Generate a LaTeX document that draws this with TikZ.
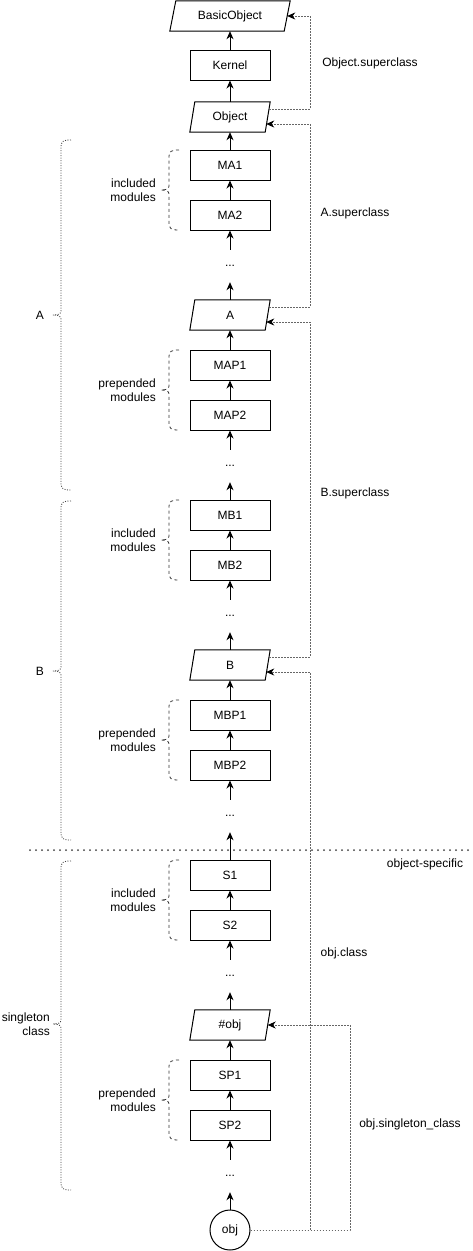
\documentclass[tikz,border=0pt]{standalone}
\usepackage{fontspec}
\setmainfont{Liberation Sans}
\usetikzlibrary{arrows.meta}
\newcommand\pgram[2]{\draw[line width=1pt] ([xshift=#2]#1.north west) -- (#1.north east) -- ([xshift=-#2]#1.south east) -- (#1.south west) -- cycle;}
\newcommand\mybrace[5]{\draw[#5] (#1+10,#2) .. controls (#1+2,#2) and (#1,#2+1) .. (#1,#2+8) -- (#1,#3-4) .. controls (#1,#3-1) and (#1-3,#3) .. (#1-8,#3) .. controls (#1-3,#3) and (#1,#3+1) .. (#1,#3+4) -- (#1,#4-8) .. controls (#1,#4-1) and (#1+2,#4) .. (#1+10,#4);}
\begin{document}
\begin{tikzpicture}[x=1pt,y=-1pt,
  every node/.style={font=\fontsize{12}{14}\selectfont},
  box/.style={draw, line width=1pt, minimum width=80pt, minimum height=30pt, inner sep=0pt},
  pg/.style={minimum width=80pt, minimum height=30pt, inner sep=0pt},
  dots/.style={minimum width=20pt, minimum height=32pt, inner sep=0pt},
  arr/.style={line width=1pt, -{Stealth[length=8pt,width=7pt,inset=2.5pt]}},
  conn/.style={black!60, line width=0.8pt, dash pattern=on 1.5pt off 1.5pt, -{Stealth[length=8pt,width=7pt,inset=2.5pt,black]}},
  bigbrace/.style={black!75, line width=0.8pt, dash pattern=on 1pt off 1.5pt},
  smallbrace/.style={black!80, line width=0.8pt, dash pattern=on 3pt off 3pt},
  lbl/.style={anchor=east, align=right, inner sep=0pt}]
\useasboundingbox (0,0) rectangle (473,1251);
% main column
\node[pg, minimum width=120pt] (BO) at (230,16) {BasicObject};
\node[box] (K) at (230,65) {Kernel};
\node[pg] (O) at (230,117) {Object};
\node[box] (MA1) at (230,165) {MA1};
\node[box] (MA2) at (230,215) {MA2};
\node[dots] (dA1) at (230,266) {...};
\node[pg] (A) at (230,315) {A};
\node[box] (MAP1) at (230,365) {MAP1};
\node[box] (MAP2) at (230,415) {MAP2};
\node[dots] (dA2) at (230,466) {...};
\node[box] (MB1) at (230,515) {MB1};
\node[box] (MB2) at (230,565) {MB2};
\node[dots] (dB1) at (230,616) {...};
\node[pg] (B) at (230,665) {B};
\node[box] (MBP1) at (230,715) {MBP1};
\node[box] (MBP2) at (230,765) {MBP2};
\node[dots] (dB2) at (230,816) {...};
\node[box] (S1) at (230,875) {S1};
\node[box] (S2) at (230,925) {S2};
\node[dots] (dS1) at (230,976) {...};
\node[pg] (H) at (230,1025) {\#obj};
\node[box] (SP1) at (230,1075) {SP1};
\node[box] (SP2) at (230,1125) {SP2};
\node[dots] (dS2) at (230,1176) {...};
\node[draw, circle, line width=1pt, minimum size=40pt, inner sep=0pt] (obj) at (230,1230) {obj};
\pgram{BO}{6}
\pgram{O}{5}
\pgram{A}{5}
\pgram{B}{5}
\pgram{H}{5}
% vertical arrows
\foreach \s/\t in {K/BO, O/K, MA1/O, MA2/MA1, dA1/MA2, A/dA1, MAP1/A, MAP2/MAP1, dA2/MAP2, MB1/dA2, MB2/MB1, dB1/MB2, B/dB1, MBP1/B, MBP2/MBP1, dB2/MBP2, S1/dB2, S2/S1, dS1/S2, H/dS1, SP1/H, SP2/SP1, dS2/SP2, obj/dS2}
  \draw[arr] (\s.north) -- (\t.south);
% right-side connectors
\coordinate (rail) at (310,0);
\coordinate (rail2) at (350,0);
\coordinate (BOin) at ([xshift=-3]BO.east);
\coordinate (Oout) at ([shift={(-1,-8)}]O.east);
\coordinate (Oin) at ([shift={(-4,7)}]O.east);
\coordinate (Aout) at ([shift={(-1,-8)}]A.east);
\coordinate (Ain) at ([shift={(-4,7)}]A.east);
\coordinate (Bout) at ([shift={(-1,-8)}]B.east);
\coordinate (Bin) at ([shift={(-4,7)}]B.east);
\coordinate (Hin) at ([xshift=-2.5]H.east);
\draw[conn] (Oout) -| (rail |- BOin) -- (BOin);
\draw[conn] (Aout) -| (rail |- Oin) -- (Oin);
\draw[conn] (Bout) -| (rail |- Ain) -- (Ain);
\draw[conn] (obj.east) -| (rail |- Bin) -- (Bin);
\draw[conn] (obj.east) -| (rail2 |- Hin) -- (Hin);
\node (l1) at (370,63) {Object.superclass};
\node (l2) at (355,213) {A.superclass};
\node (l3) at (355,493) {B.superclass};
\node (l4) at (344,953) {obj.class};
\node (l5) at (410,1124) {obj.singleton\_class};
\node (l6) at (425,864) {object-specific};
% separator
\draw[black!75, line width=2pt, dash pattern=on 0pt off 6pt, line cap=round] (30,850) -- (468,850);
% big braces
\mybrace{61}{140}{315}{490}{bigbrace}
\mybrace{61}{501}{671}{840}{bigbrace}
\mybrace{61}{861}{1024}{1190}{bigbrace}
\node[lbl] (lA) at (44,315) {A};
\node[lbl] (lB) at (44,671) {B};
\node[lbl] (lS) at (50,1024) {singleton\\class};
% small braces
\mybrace{169}{150}{190}{230}{smallbrace}
\mybrace{169}{350}{390}{430}{smallbrace}
\mybrace{169}{500}{540}{580}{smallbrace}
\mybrace{169}{700}{740}{780}{smallbrace}
\mybrace{169}{860}{900}{940}{smallbrace}
\mybrace{169}{1060}{1100}{1140}{smallbrace}
\node[lbl] (i1) at (156,190) {included\\modules};
\node[lbl] (p1) at (156,390) {prepended\\modules};
\node[lbl] (i2) at (156,540) {included\\modules};
\node[lbl] (p2) at (156,740) {prepended\\modules};
\node[lbl] (i3) at (156,900) {included\\modules};
\node[lbl] (p3) at (156,1100) {prepended\\modules};
\end{tikzpicture}
\end{document}
